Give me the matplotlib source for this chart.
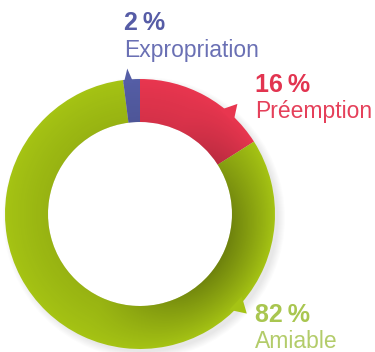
import matplotlib.pyplot as plt
import numpy as np
from matplotlib.patches import Polygon, Circle, Wedge

# Data
labels = ["Préemption", "Amiable", "Expropriation"]
shares = [16, 82, 2]
colors = ["#e8364f", "#a5c314", "#555ea6"]
text_pct = ["#e23450", "#a9c650", "#565ca6"]
text_lab = ["#e5405a", "#b3cc6a", "#6a70b4"]

W, H = 375, 352
cx, cy = 140, H - 214
R, ring = 135, 43

fig = plt.figure(figsize=(W / 100, H / 100), dpi=100)
ax = fig.add_axes([0, 0, 1, 1])
ax.axis("off")

# soft shadow at lower right
for i in range(8):
    ax.add_patch(Circle((cx + 4, cy - 4), R + 6 - i, color="#000000",
                        alpha=0.012, lw=0, zorder=0))
ax.add_patch(Circle((cx, cy), R - ring, color="white", lw=0, zorder=0.5))

ax.pie(shares, colors=colors, startangle=90, counterclock=False,
       radius=R, center=(cx, cy), wedgeprops=dict(width=ring, lw=0))

# shading overlay: darker toward the inner edge, mostly on the lower right
xs = np.linspace(cx - R, cx + R, 300)
ys = np.linspace(cy - R, cy + R, 300)
X, Y = np.meshgrid(xs, ys)
r = np.hypot(X - cx, Y - cy)
theta = np.arctan2(X - cx, Y - cy)  # clockwise from top
t = np.clip((R - r) / ring, 0, 1)
ang = 0.25 + 0.75 * np.clip(np.cos(theta - np.radians(115)), 0, 1) ** 1.2
alpha = 0.34 * t ** 0.9 * ang
img = np.zeros((300, 300, 4))
img[..., 3] = alpha
annulus = Wedge((cx, cy), R, 0, 360, width=ring, transform=ax.transData)
im = ax.imshow(img, extent=(cx - R, cx + R, cy - R, cy + R), origin="lower",
               zorder=2, interpolation="bilinear")
im.set_clip_path(annulus)

# little pointers on the outer edge
def pointer(ang_deg, col, half=3.5, out=13):
    a = np.radians(ang_deg)
    a1, a2 = np.radians(ang_deg - half), np.radians(ang_deg + half)
    base = R - 4
    pts = [(cx + base * np.sin(a1), cy + base * np.cos(a1)),
           (cx + (R + out) * np.sin(a), cy + (R + out) * np.cos(a)),
           (cx + base * np.sin(a2), cy + base * np.cos(a2))]
    ax.add_patch(Polygon(pts, color=col, lw=0, zorder=3))

pointer(41.5, colors[0], half=4, out=12)
pointer(133, colors[1], half=4, out=11)
pointer(-5, colors[2], half=2.2, out=11)

font = "Liberation Sans"
pos = [(255, 92, 118), (255, 322, 348), (124, 30, 57)]
for (x, y1, y2), s, lab, c1, c2 in zip(pos, shares, labels, text_pct, text_lab):
    ax.text(x, H - y1, f"{s}\u2009%", family=[font, "DejaVu Sans"], fontsize=18,
            fontweight="bold", color=c1, va="baseline", ha="left")
    ax.text(x, H - y2, lab, family=font, fontsize=16.5,
            color=c2, va="baseline", ha="left")

ax.set_xlim(0, W)
ax.set_ylim(0, H)
ax.set_aspect("equal")

fig.savefig("out.png", dpi=100)
